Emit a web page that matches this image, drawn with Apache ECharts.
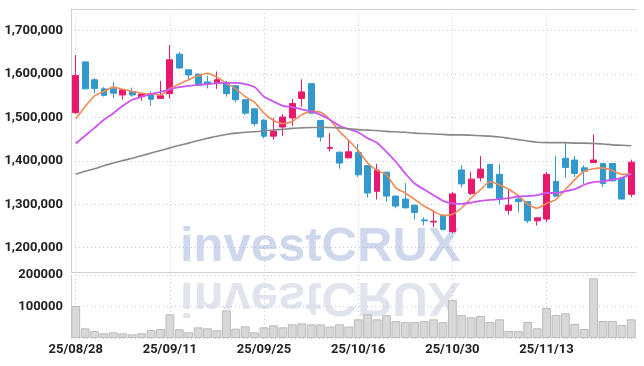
<!DOCTYPE html>
<html>
<head>
<meta charset="utf-8">
<script src="https://cdn.jsdelivr.net/npm/echarts@6/dist/echarts.min.js"></script>
<style>
  html, body { margin: 0; padding: 0; background: #fff; }
  #chart { width: 644px; height: 366px; }
</style>
</head>
<body>
<div id="chart"></div>
<script>
var dates = ['25/08/28','25/08/29','25/09/01','25/09/02','25/09/03','25/09/04','25/09/05','25/09/08','25/09/09','25/09/10',
  '25/09/11','25/09/12','25/09/15','25/09/16','25/09/17','25/09/18','25/09/19','25/09/22','25/09/23','25/09/24',
  '25/09/25','25/09/26','25/09/29','25/09/30','25/10/01','25/10/02','25/10/10','25/10/13','25/10/14','25/10/15',
  '25/10/16','25/10/17','25/10/20','25/10/21','25/10/22','25/10/23','25/10/24','25/10/27','25/10/28','25/10/29',
  '25/10/30','25/10/31','25/11/03','25/11/04','25/11/05','25/11/06','25/11/07','25/11/10','25/11/11','25/11/12',
  '25/11/13','25/11/14','25/11/17','25/11/18','25/11/19','25/11/20','25/11/21','25/11/24','25/11/25','25/11/26'];

var open = [1511000,1628000,1587000,1566000,1566000,1552000,1560000,1548000,1554000,1544000,
  1555000,1646000,1610000,1600000,1582000,1579000,1581000,1573000,1541000,1520000,
  1494000,1457000,1478000,1499000,1544000,1578000,1493000,1429000,1420000,1407000,
  1419000,1389000,1330000,1374000,1319000,1312000,1298000,1264000,1259000,1275000,
  1237000,1379000,1325000,1361000,1392000,1369000,1286000,1312000,1306000,1262000,
  1266000,1353000,1406000,1402000,1384000,1396000,1394000,1394000,1360000,1323000];
var close = [1597000,1566000,1567000,1551000,1556000,1564000,1552000,1554000,1542000,1550000,
  1633000,1614000,1598000,1574000,1577000,1587000,1555000,1541000,1510000,1486000,
  1457000,1468000,1501000,1532000,1559000,1510000,1455000,1431000,1395000,1421000,
  1368000,1326000,1379000,1319000,1296000,1292000,1281000,1262000,1261000,1242000,
  1324000,1347000,1358000,1381000,1338000,1312000,1298000,1306000,1262000,1269000,
  1369000,1319000,1385000,1371000,1376000,1402000,1348000,1354000,1312000,1397000];
var low = [1509000,1565000,1556000,1548000,1545000,1541000,1548000,1539000,1527000,1543000,
  1544000,1613000,1587000,1572000,1567000,1566000,1548000,1535000,1506000,1480000,
  1452000,1449000,1457000,1481000,1525000,1510000,1445000,1422000,1382000,1406000,
  1363000,1316000,1311000,1306000,1291000,1290000,1265000,1252000,1247000,1240000,
  1234000,1339000,1321000,1353000,1337000,1300000,1276000,1281000,1257000,1251000,
  1259000,1316000,1361000,1363000,1347000,1395000,1340000,1353000,1311000,1317000];
var high = [1644000,1629000,1591000,1570000,1581000,1566000,1569000,1557000,1560000,1584000,
  1667000,1651000,1610000,1601000,1596000,1606000,1584000,1575000,1542000,1521000,
  1496000,1499000,1508000,1543000,1588000,1578000,1494000,1464000,1422000,1446000,
  1439000,1390000,1393000,1375000,1320000,1349000,1299000,1270000,1287000,1276000,
  1329000,1390000,1375000,1411000,1393000,1392000,1334000,1321000,1307000,1270000,
  1375000,1411000,1443000,1411000,1390000,1461000,1395000,1395000,1361000,1403000];

var ma5 = [1497000,1525000,1550000,1560000,1570000,1565000,1560000,1556000,1554000,1552000,
  1567000,1577000,1587000,1596000,1602000,1593000,1579000,1566000,1548000,1535000,
  1510000,1493000,1486000,1491000,1506000,1514000,1512000,1495000,1468000,1447000,
  1424000,1395000,1378000,1368000,1338000,1326000,1311000,1296000,1284000,1274000,
  1277000,1292000,1315000,1334000,1352000,1345000,1334000,1320000,1300000,1291000,
  1302000,1311000,1334000,1357000,1376000,1382000,1384000,1378000,1369000,1371000];
var ma20 = [1440000,1458000,1476000,1495000,1510000,1527000,1541000,1548000,1554000,1559000,
  1565000,1570000,1573000,1575000,1577000,1579000,1580000,1580000,1577000,1570000,
  1548000,1537000,1527000,1524000,1519000,1514000,1506000,1495000,1481000,1473000,
  1466000,1452000,1442000,1421000,1398000,1371000,1348000,1334000,1321000,1308000,
  1302000,1301000,1304000,1308000,1310000,1312000,1314000,1318000,1319000,1321000,
  1326000,1326000,1330000,1335000,1345000,1351000,1353000,1357000,1361000,1370000];
var ma60 = [1369000,1376000,1382000,1389000,1395000,1401000,1406000,1412000,1418000,1424000,
  1430000,1436000,1441000,1447000,1452000,1457000,1461000,1464000,1466000,1467000,
  1469000,1471000,1473000,1475000,1476000,1477000,1477000,1477000,1476000,1474000,
  1472000,1471000,1470000,1468000,1467000,1466000,1464000,1463000,1462000,1461000,
  1460000,1460000,1459000,1458000,1457000,1455000,1452000,1449000,1446000,1443000,
  1442000,1442000,1442000,1441000,1441000,1440000,1439000,1437000,1436000,1435000];

var volume = [101600,30800,22200,14900,18100,14900,11700,14900,25400,28600,
  75200,27600,18100,33900,30800,24400,87900,29600,37100,18100,
  33900,40200,33900,43400,46600,43400,43400,36500,43400,36500,
  59300,75700,59300,72500,53500,50300,50300,53500,59300,50300,
  120200,72500,65600,69800,50800,59300,22200,22200,50800,30800,
  95200,73000,78300,44400,28600,189500,54000,54000,41300,59300];

var upColor = '#e8196c';
var downColor = '#3399cc';
var font = 'Roboto, sans-serif';
var dotted = { color: '#c6cade', type: [1, 3], width: 1 };
var label = { fontSize: 13, fontWeight: 'bold', color: '#222', fontFamily: font };

var candles = [];
for (var i = 0; i < dates.length; i++) {
  candles.push([open[i], close[i], low[i], high[i]]);
}

var chart = echarts.init(document.getElementById('chart'));

var option = {
  animation: false,
  backgroundColor: '#fff',
  grid: [
    { left: 71, right: 8, top: 9, height: 263, outerBoundsMode: 'none' },
    { left: 71, right: 8, top: 275, height: 63, outerBoundsMode: 'none' }
  ],
  graphic: [
    {
      type: 'text', x: 180, y: 272, z: 1,
      style: {
        text: 'investCRUX', font: 'bold 49px "Liberation Sans", sans-serif',
        fill: 'rgba(168,182,220,0.55)', textVerticalAlign: 'bottom'
      }
    },
    {
      type: 'text', x: 180, y: 272, scaleY: -1, z: 1,
      style: {
        text: 'investCRUX', font: 'bold 49px "Liberation Sans", sans-serif',
        textVerticalAlign: 'bottom', fill: 'rgba(205,208,225,0.6)'
      }
    }
  ],
  xAxis: [
    {
      type: 'category', gridIndex: 0, data: dates, position: 'top',
      axisLine: { lineStyle: { color: '#d0d0d0' } },
      axisTick: { show: false }, axisLabel: { show: false },
      splitLine: { show: true, interval: 9, alignWithLabel: true, lineStyle: dotted }
    },
    {
      type: 'category', gridIndex: 1, data: dates,
      axisLine: { show: false }, axisTick: { show: false },
      axisLabel: Object.assign({ interval: 9, margin: 5 }, label),
      splitLine: { show: true, interval: 9, alignWithLabel: true, lineStyle: dotted }
    },
    {
      type: 'category', gridIndex: 0, data: dates, position: 'bottom',
      axisLine: { lineStyle: { color: '#d0d0d0' } },
      axisTick: { show: false }, axisLabel: { show: false }, splitLine: { show: false }
    }
  ],
  yAxis: [
    {
      type: 'value', gridIndex: 0, min: 1144000, max: 1750000,
      axisLine: { show: true, lineStyle: { color: '#d0d0d0' } },
      axisTick: { show: false },
      axisLabel: Object.assign({
        margin: 8, showMinLabel: false, showMaxLabel: false,
        formatter: function (v) { return v.toLocaleString('en-US'); }
      }, label),
      splitLine: { lineStyle: dotted }
    },
    {
      type: 'value', gridIndex: 1, min: 0, max: 200000, interval: 100000,
      axisLine: { show: true, lineStyle: { color: '#d0d0d0' } },
      axisTick: { show: false },
      axisLabel: Object.assign({
        margin: 8, showMinLabel: false,
        formatter: function (v) { return String(v); }
      }, label),
      splitLine: { lineStyle: dotted }
    }
  ],
  series: [
    {
      type: 'candlestick', xAxisIndex: 0, yAxisIndex: 0, data: candles, barWidth: '68%',
      itemStyle: { color: upColor, color0: downColor, borderColor: upColor, borderColor0: downColor, borderWidth: 1 }
    },
    { type: 'line', xAxisIndex: 0, yAxisIndex: 0, data: ma5, showSymbol: false, smooth: 0.2,
      lineStyle: { color: '#ef8a55', width: 1.6 } },
    { type: 'line', xAxisIndex: 0, yAxisIndex: 0, data: ma20, showSymbol: false, smooth: 0.2,
      lineStyle: { color: '#cc55ee', width: 1.8 } },
    { type: 'line', xAxisIndex: 0, yAxisIndex: 0, data: ma60, showSymbol: false, smooth: 0.3,
      lineStyle: { color: '#888888', width: 1.6 } },
    {
      type: 'bar', xAxisIndex: 1, yAxisIndex: 1, data: volume, barCategoryGap: '6%',
      itemStyle: { color: '#d8d8d8', borderColor: '#bcbcbc', borderWidth: 1 }
    }
  ]
};

chart.setOption(option);
</script>
</body>
</html>
